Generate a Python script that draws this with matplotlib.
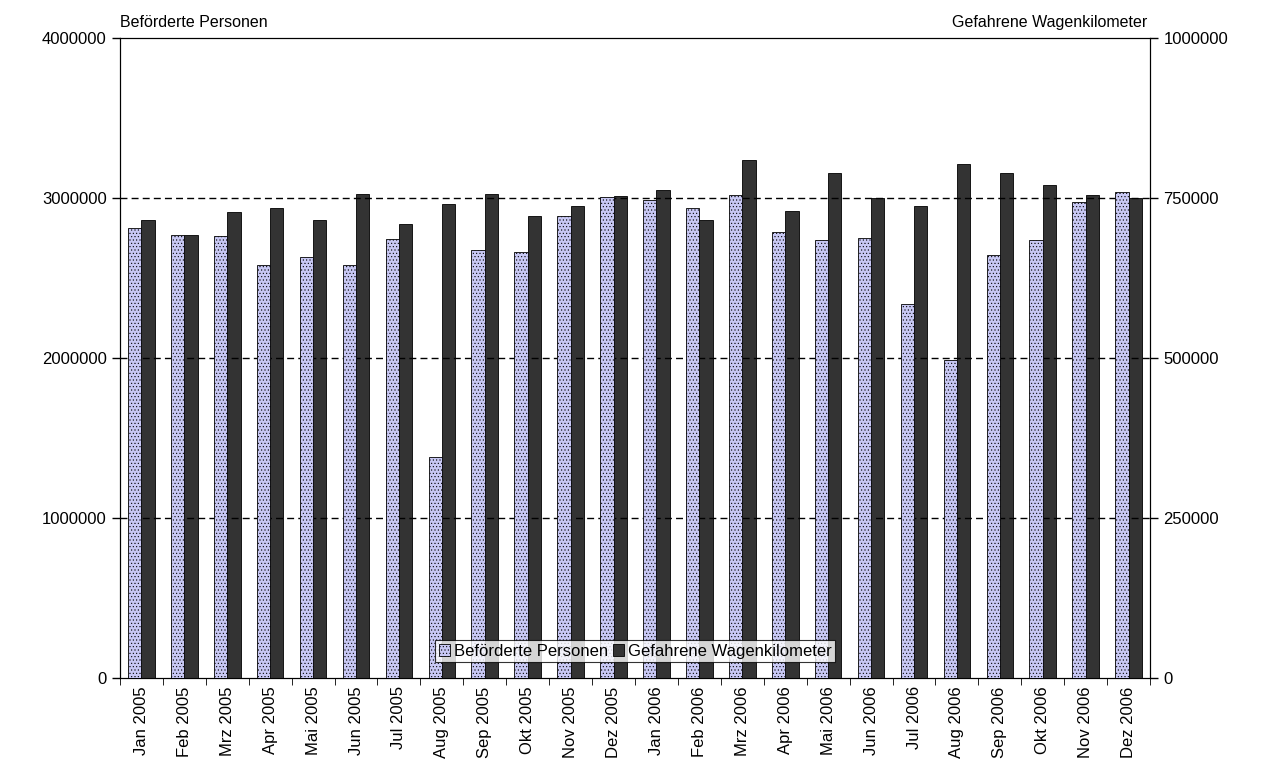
import numpy as np
import matplotlib
matplotlib.use('Agg')
import matplotlib.pyplot as plt

plt.rcParams['font.family'] = ['Liberation Sans', 'DejaVu Sans']
plt.rcParams['hatch.color'] = '#9090c0'
plt.rcParams['hatch.linewidth'] = 0.4

months = ['Jan', 'Feb', 'Mrz', 'Apr', 'Mai', 'Jun', 'Jul', 'Aug', 'Sep', 'Okt', 'Nov', 'Dez']
labels = ['%s %d' % (m, y) for y in (2005, 2006) for m in months]
personen = [2815000, 2770000, 2760000, 2580000, 2630000, 2580000, 2745000, 1380000,
            2675000, 2660000, 2890000, 3005000, 2985000, 2940000, 3020000, 2785000,
            2740000, 2750000, 2340000, 1990000, 2645000, 2735000, 2975000, 3040000]
wagenkm = [715000, 692500, 729000, 734000, 715000, 756000, 710000, 741000,
           756000, 722500, 737500, 754000, 762500, 715000, 809000, 730000,
           790000, 750000, 737500, 804000, 789000, 771000, 755000, 750000]

fig = plt.figure(figsize=(12.68, 7.78), dpi=100)
ax = fig.add_axes([0.0946, 0.1285, 0.8124, 0.8225])
ax2 = ax.twinx()
x = np.arange(len(labels))
w = 0.31
b1 = ax.bar(x - w/2, personen, w, color='#c8c8f4', edgecolor='black', linewidth=0.6,
            hatch='.....', label='Beförderte Personen', zorder=3)
b2 = ax2.bar(x + w/2, wagenkm, w, color='#333333', edgecolor='black', linewidth=0.6,
             label='Gefahrene Wagenkilometer', zorder=3)

ax.set_xlim(-0.5, len(labels) - 0.5)
ax.set_ylim(0, 4000000)
ax2.set_ylim(0, 1000000)
ax.set_yticks(np.arange(0, 4000001, 1000000))
ax2.set_yticks(np.arange(0, 1000001, 250000))
ax.set_yticklabels(['%d' % v for v in ax.get_yticks()], fontsize=12)
ax2.set_yticklabels(['%d' % v for v in ax2.get_yticks()], fontsize=12)
ax.set_xticks(x)
ax.set_xticklabels(labels, rotation=90, fontsize=12)
ax.set_xticks(np.arange(-0.5, len(labels)), minor=True)
ax.tick_params(axis='x', which='major', length=0, pad=6)
ax.tick_params(axis='x', which='minor', length=5)
ax.tick_params(axis='y', length=6, width=1)
ax2.tick_params(axis='y', length=6, width=1)
for v in (1000000, 2000000, 3000000):
    ax.axhline(v, color='black', linestyle=(0, (5, 3)), linewidth=1, zorder=1)
ax2.set_zorder(ax.get_zorder() - 1)
ax.patch.set_visible(False)
ax.set_zorder(2)

fig.text(0.0946, 0.962, 'Beförderte Personen', fontsize=11.5, ha='left', va='bottom')
fig.text(0.905, 0.962, 'Gefahrene Wagenkilometer', fontsize=11.5, ha='right', va='bottom')

leg = ax.legend([b1, b2], ['Beförderte Personen', 'Gefahrene Wagenkilometer'],
                loc='lower center', bbox_to_anchor=(0.5, 0.025), ncol=2, fontsize=12,
                frameon=True, fancybox=False, edgecolor='black', handlelength=0.7,
                handletextpad=0.2, columnspacing=0.3, borderpad=0.2, borderaxespad=0)
leg.get_frame().set_linewidth(0.8)
leg.set_zorder(10)

fig.savefig('out.png', dpi=100)
